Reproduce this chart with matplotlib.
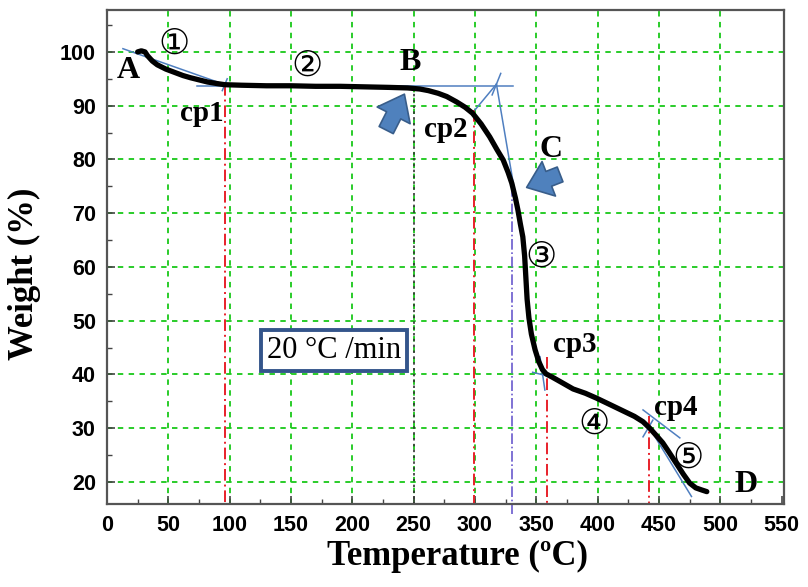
import matplotlib
matplotlib.use("Agg")
import matplotlib.pyplot as plt
from matplotlib.patches import FancyArrowPatch
from matplotlib.ticker import MultipleLocator

# ---- data ----
temperature = [25, 28, 31, 33, 37, 41, 48, 55, 62, 68, 75, 82, 90, 96, 110, 130, 150, 170,
               190, 210, 230, 245, 255, 262, 270, 277, 285, 292, 298, 305, 312, 318, 323,
               327, 330, 333, 335, 337, 339, 340.5, 341.5, 342.5, 344, 346, 349, 352, 355,
               358, 363, 370, 380, 390, 399, 410, 420, 430, 437, 442.5, 448, 453, 458, 464,
               470, 475, 480, 485, 489]
weight = [100.0, 100.2, 100.0, 99.3, 98.3, 97.6, 96.8, 96.2, 95.6, 95.2, 94.8, 94.4, 94.1,
          93.9, 93.8, 93.7, 93.7, 93.6, 93.6, 93.5, 93.4, 93.3, 93.1, 92.8, 92.3, 91.7,
          90.7, 89.7, 88.6, 86.6, 84.2, 81.8, 79.9, 77.6, 75.6, 72.8, 70.6, 68.0, 65.6,
          62.0, 58.0, 54.0, 50.5, 47.5, 44.6, 42.4, 40.9, 40.1, 39.5, 38.6, 37.3, 36.5,
          35.6, 34.4, 33.3, 32.2, 31.2, 30.0, 28.6, 27.3, 25.6, 23.5, 21.4, 19.8, 18.9,
          18.5, 18.2]

x_ticks = [0, 50, 100, 150, 200, 250, 300, 350, 400, 450, 500, 550]
y_ticks = [20, 30, 40, 50, 60, 70, 80, 90, 100]

cp_temps = [96, 299, 359, 442]          # red dash-dot change points
cp_tops = [94.0, 89.2, 43.3, 32.2]
cp_labels = ["cp1", "cp2", "cp3", "cp4"]
cp_label_pos = [(77, 88.6), (276, 85.5), (381, 45.5), (464, 33.8)]

point_labels = ["A", "B", "C", "D"]
point_label_pos = [(17, 96.6), (247, 98.1), (362, 81.8), (521, 19.6)]

stage_labels = ["\u2460", "\u2461", "\u2462", "\u2463", "\u2464"]
stage_pos = [(54.6, 101.5), (163, 97.4), (353.7, 61.9), (397, 30.8), (473.5, 24.5)]

# tangent lines (x0, y0, x1, y1)
tangents = [
    (13, 100.6, 100, 93.6),
    (73, 93.6, 331, 93.6),
    (317.5, 94.0, 332, 74.5),
    (300, 89.2, 317.5, 94.0),
    (314, 92.0, 321, 96.0),
    (347, 40.4, 366.7, 39.3),
    (353, 43.3, 357, 37.1),
    (437, 33.4, 467, 28.2),
    (437, 28.4, 445, 31.5),
    (442.5, 30.0, 476.5, 17.3),
    (94, 92.8, 98, 95.0),
]

# ---- figure ----
fig = plt.figure(figsize=(8.08, 5.87), dpi=100)
ax = fig.add_axes([0.1324, 0.1414, 0.838, 0.8416])
ax.set_xlim(0, 552)
ax.set_ylim(15.9, 107.8)

grid_kw = dict(color="#19c819", lw=1.3, dashes=(3, 3), zorder=1)
for xv in x_ticks[1:-1]:
    ax.axvline(xv, **grid_kw)
for yv in y_ticks:
    ax.axhline(yv, **grid_kw)

# dotted line at B
ax.plot([250, 250], [93.3, 15.9], color="#333333", lw=1.2, ls=(0, (1.5, 2)), zorder=2)
# purple dash-dot at C
ax.plot([330, 330], [75.0, 14.0], color="#6a5acd", lw=1.2, ls="-.", zorder=2, clip_on=False)

for t, top in zip(cp_temps, cp_tops):
    ax.plot([t, t], [top, 15.9], color="#e8202a", lw=1.4, ls=(0, (6, 2, 1, 2)), zorder=2)

for x0, y0, x1, y1 in tangents:
    ax.plot([x0, x1], [y0, y1], color="#4f7fc0", lw=1.1, zorder=3)

ax.plot(temperature, weight, color="black", lw=3.8, solid_capstyle="round", zorder=4)

serif_bold = dict(family="Liberation Serif", weight="bold")
for s, (px, py) in zip(point_labels, point_label_pos):
    ax.text(px, py, s, fontsize=23, ha="center", va="center", zorder=6, **serif_bold)
for s, (px, py) in zip(cp_labels, cp_label_pos):
    ax.text(px, py, s, fontsize=21, ha="center", va="center", zorder=6, **serif_bold)
for s, (px, py) in zip(stage_labels, stage_pos):
    ax.text(px, py, s, fontsize=25, ha="center", va="center", zorder=6,
            family=["DejaVu Sans", "Noto Sans CJK SC"])

ax.text(185, 44.4, "20 \u00b0C /min", fontsize=22, family="Liberation Serif",
        ha="center", va="center", zorder=6,
        bbox=dict(boxstyle="square,pad=0.2", fc="white", ec="#34558b", lw=2.8))

arrow_kw = dict(arrowstyle="simple,head_width=1.4,head_length=0.9,tail_width=0.6",
                mutation_scale=19, fc="#4f81bd", ec="#385d8a", lw=1.2, zorder=7)
ax.add_patch(FancyArrowPatch((226.6, 85.0), (243.5, 92.6), **arrow_kw))
ax.add_patch(FancyArrowPatch((371.5, 77.4), (340.0, 74.6), **arrow_kw))

# axes styling
ax.set_xticks(x_ticks)
ax.set_yticks(y_ticks)
ax.xaxis.set_minor_locator(MultipleLocator(25))
ax.yaxis.set_minor_locator(MultipleLocator(5))
ax.tick_params(which="both", direction="in", top=False, right=False, color="#444444")
ax.tick_params(which="major", length=6, width=1.2, pad=8)
ax.tick_params(which="minor", length=3.5, width=1.0)
for lab in ax.get_xticklabels() + ax.get_yticklabels():
    lab.set_family("Liberation Sans")
    lab.set_weight("bold")
    lab.set_fontsize(15.5)
for sp in ax.spines.values():
    sp.set_color("#555555")
    sp.set_linewidth(1.6)

ax.set_xlabel("Temperature (\u00baC)", fontsize=25, **serif_bold)
ax.set_ylabel("Weight (%)", fontsize=25, **serif_bold)
ax.xaxis.set_label_coords(0.518, -0.072)
ax.yaxis.set_label_coords(-0.097, 0.466)

fig.savefig("out.png", dpi=100, facecolor="white")
